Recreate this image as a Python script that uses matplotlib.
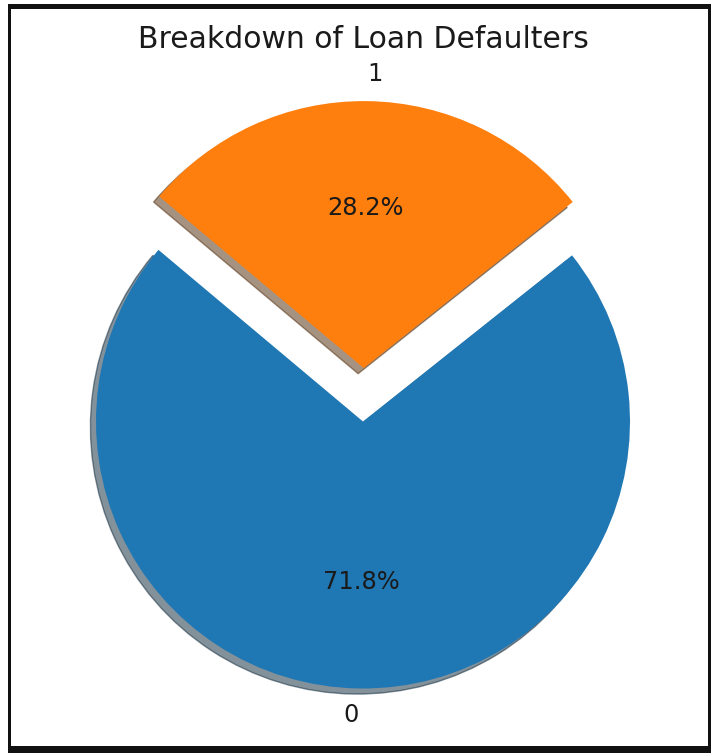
import matplotlib
matplotlib.use("Agg")
import matplotlib.pyplot as plt
from matplotlib.patches import Rectangle

# Share of borrowers by default status
labels = ["0", "1"]
shares = [71.8, 28.2]
explode = [0, 0.2]
title = "Breakdown of Loan Defaulters"

W, H = 716, 753
fig = plt.figure(figsize=(W / 100, H / 100), dpi=100)
fig.patch.set_facecolor("white")

# Square axes placed so the pie has a 267 px radius centred at (363, 421)
R = 267.0
cx, cy = 363.0, H - 421.5
half = 300.0
ax = fig.add_axes([(cx - half) / W, (cy - half) / H, 2 * half / W, 2 * half / H])
ax.pie(shares, labels=labels, explode=explode, autopct="%1.1f%%",
       startangle=140, shadow={"ox": -0.015, "oy": -0.015},
       textprops={"fontsize": 17.4, "color": "#1a1a1a"})
lim = half / R
ax.set_xlim(-lim, lim)
ax.set_ylim(-lim, lim)
ax.set_aspect("equal")
ax.axis("off")

fig.text(363 / W, (H - 39) / H, title, ha="center", va="center",
         fontsize=21.5, color="#1a1a1a")

# Black frame around the figure
def frame(x0, y0, x1, y1):
    fig.patches.append(Rectangle((x0 / W, 1 - y1 / H), (x1 - x0) / W, (y1 - y0) / H,
                                 transform=fig.transFigure, facecolor="#111111",
                                 edgecolor="none", zorder=10))

frame(8, 4, 711, 9)      # top
frame(8, 746, 711, 753)  # bottom
frame(8, 4, 11, 753)     # left
frame(708, 4, 711, 753)  # right

fig.savefig("out.png", dpi=100, facecolor="white")
